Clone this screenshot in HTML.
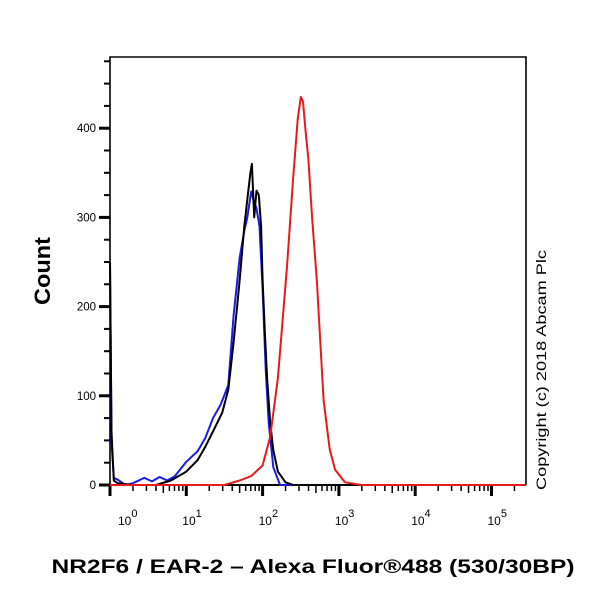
<!DOCTYPE html>
<html><head><meta charset="utf-8"><style>
body{margin:0;background:#fff}
svg{display:block;font-family:"Liberation Sans",Arial,sans-serif}
</style></head><body>
<svg id="chart" width="600" height="600">
<g id="axes"></g>
<g id="series"></g>
<text x="0" y="0" transform="translate(50,271) rotate(-90)" text-anchor="middle" font-size="22" font-weight="bold" textLength="68" lengthAdjust="spacingAndGlyphs">Count</text>
<text x="313" y="573" text-anchor="middle" font-size="19" font-weight="bold" textLength="523" lengthAdjust="spacingAndGlyphs">NR2F6 / EAR-2 – Alexa Fluor®488 (530/30BP)</text>
<text x="0" y="0" transform="translate(546,370) rotate(-90)" text-anchor="middle" font-size="14" textLength="240" lengthAdjust="spacingAndGlyphs">Copyright (c) 2018 Abcam Plc</text>
</svg>
<script>
const yTicks=[0,100,200,300,400];
const xDecades=[0,1,2,3,4,5];
const blackX=[0.00,0.02,0.05,0.10,0.30,0.60,0.80,1.00,1.15,1.25,1.35,1.47,1.55,1.62,1.70,1.76,1.80,1.84,1.86,1.89,1.92,1.95,1.98,2.00,2.03,2.06,2.10,2.14,2.20,2.30,2.40,5.45];
const blackY=[250,60,5,2,0,0,5,15,28,43,60,81,107,160,230,290,320,350,360,300,330,325,290,230,170,118,70,39,15,3,0,0];
const blueX=[0.00,0.02,0.05,0.10,0.20,0.30,0.45,0.55,0.65,0.75,0.85,1.00,1.15,1.25,1.35,1.45,1.55,1.62,1.70,1.76,1.80,1.85,1.88,1.92,1.96,2.00,2.04,2.08,2.14,2.23,2.40,5.45];
const blueY=[250,50,8,6,0,2,8,4,9,5,10,26,38,53,75,90,112,190,255,285,300,329,320,310,290,220,130,70,20,0,0,0];
const redX=[0.00,1.50,1.70,1.85,2.00,2.10,2.20,2.32,2.40,2.46,2.50,2.53,2.56,2.60,2.65,2.71,2.80,2.88,2.95,3.08,3.30,5.45];
const redY=[0,0,5,10,22,54,120,245,343,410,435,430,400,365,298,230,95,40,17,3,0,0];

const NS='http://www.w3.org/2000/svg';
const X0=110,DEC=76.3,XR=526,Y0=485,YPER=0.892,YT=57;
const xs=d=>X0+d*DEC, ys=c=>Y0-c*YPER;
function mk(tag,attrs,parent){const e=document.createElementNS(NS,tag);for(const k in attrs)e.setAttribute(k,attrs[k]);parent.appendChild(e);return e;}
const ax=document.getElementById('axes'), se=document.getElementById('series');
const fr=mk('path',{d:`M${X0},${Y0} V${YT} H${XR} V${Y0}`,fill:'none',stroke:'#000','stroke-width':1.6},ax);


const xl=mk('line',{x1:X0,y1:Y0,x2:XR,y2:Y0,stroke:'#000','stroke-width':2},ax);


for(let v=0;v<=475;v+=25){
  const major=v%100===0;
  const t=mk('line',{x1:X0-(major?11:6),y1:ys(v),x2:X0,y2:ys(v),stroke:'#000','stroke-width':major?3:2},ax);
  
  
}
yTicks.forEach(v=>{
  const t=mk('text',{x:96,y:ys(v)+4,'text-anchor':'end','font-size':11.5},ax);
  t.textContent=v;
  
  
});
for(let d=0;d<=5;d++){
  for(let m=1;m<=9;m++){
    const p=d+Math.log10(m); if(xs(p)>XR) break;
    const major=m===1;
    const t=mk('line',{x1:xs(p),y1:Y0,x2:xs(p),y2:Y0+(major?11:(m===5?8:6)),stroke:'#000','stroke-width':major?3:1.5},ax);
    
    
  }
}
xDecades.forEach(d=>{
  const t=mk('text',{x:xs(d)+(d===0?8:-4),y:525,'font-size':12},ax);
  t.textContent='10';
  const s=mk('tspan',{dy:-8,'font-size':11},t);
  s.textContent=d;
  
  
});
function line(X,Y,color,name){
  const d=X.map((x,i)=>(i?'L':'M')+xs(x).toFixed(1)+','+ys(Y[i]).toFixed(1)).join(' ');
  const p=mk('path',{d,fill:'none',stroke:color,'stroke-width':2,'stroke-linejoin':'round'},se);
  
  
}
line(blueX,blueY,'#1a1ae6','blue-histogram');
line(blackX,blackY,'#000','black-histogram');
line(redX,redY,'#e61a1a','red-histogram');
</script>
</body></html>
